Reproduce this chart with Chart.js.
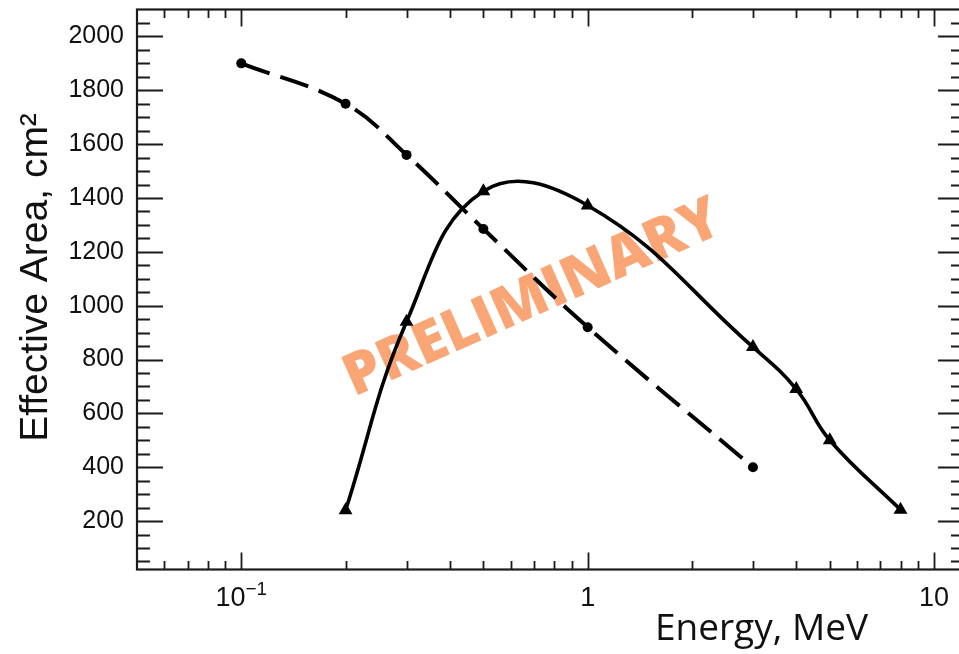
<!DOCTYPE html>
<html><head><meta charset="utf-8">
<script src="https://cdn.jsdelivr.net/npm/chart.js@4/dist/chart.umd.min.js"></script>
<style>html,body{margin:0;padding:0;background:#fff;overflow:hidden;width:959px;height:654px}canvas{display:block}</style>
</head><body>
<canvas id="c" width="1000" height="654" style="width:1000px;height:654px"></canvas>
<script>
// Data
const energyDashed = [0.1, 0.2, 0.3, 0.5, 1, 3];
const areaDashed   = [1900, 1750, 1560, 1285, 920, 400];
const energySolid  = [0.2, 0.3, 0.5, 1, 3, 4, 5, 8];
const areaSolid    = [240, 940, 1425, 1372, 846, 690, 500, 242];
const xTickValues  = [0.1, 1, 10];
const xTickBase    = ['10', '1', '10'];
const xTickExp     = ['\u22121', '', ''];
const yTickValues  = [200, 400, 600, 800, 1000, 1200, 1400, 1600, 1800, 2000];
const yTickLabels  = ['200', '400', '600', '800', '1000', '1200', '1400', '1600', '1800', '2000'];
const xTitle = 'Energy, MeV';
const yTitle = 'Effective Area, cm\u00B2';
const watermark = 'PRELIMINARY';

const decoPlugin = {
  id: 'deco',
  beforeDatasetsDraw(chart) {
    const ctx = chart.ctx;
    ctx.save();
    ctx.translate(531, 295);
    ctx.rotate(-24 * Math.PI / 180);
    ctx.font = '800 58px "Open Sans"';
    ctx.fillStyle = 'rgb(249,165,118)';
    ctx.textAlign = 'center';
    ctx.textBaseline = 'alphabetic';
    ctx.fillText(watermark, 0, 21);
    ctx.restore();
  },
  afterDraw(chart) {
    const ctx = chart.ctx, a = chart.chartArea, xs = chart.scales.x, ys = chart.scales.y;
    ctx.save();
    ctx.strokeStyle = '#1a1a1a';
    ctx.lineWidth = 1.8;
    ctx.beginPath();
    for (let d = -2; d <= 1; d++) {
      for (let m = 1; m <= 9; m++) {
        const v = m * Math.pow(10, d);
        if (v <= xs.min || v >= xs.max) continue;
        const len = m === 1 ? 17 : 8.5;
        const px = Math.round(xs.getPixelForValue(v)) + 0.5;
        ctx.moveTo(px, a.bottom); ctx.lineTo(px, a.bottom - len);
        ctx.moveTo(px, a.top); ctx.lineTo(px, a.top + len);
      }
    }
    for (let v = 50; v < ys.max; v += 50) {
      if (v <= ys.min) continue;
      const len = v % 200 === 0 ? 26 : 13;
      const py = Math.round(ys.getPixelForValue(v)) + 0.5;
      ctx.moveTo(a.left, py); ctx.lineTo(a.left + len, py);
      ctx.moveTo(a.right, py); ctx.lineTo(a.right - len, py);
    }
    ctx.stroke();
    ctx.lineWidth = 2.2;
    ctx.strokeRect(a.left, a.top, a.right - a.left, a.bottom - a.top);

    // x tick labels (base with superscript exponent), placed by the scale
    ctx.fillStyle = '#111';
    ctx.textBaseline = 'alphabetic';
    xTickValues.forEach((v, i) => {
      const px = xs.getPixelForValue(v);
      ctx.font = '27px "Liberation Sans"';
      const wb = ctx.measureText(xTickBase[i]).width;
      ctx.font = '19px "Liberation Sans"';
      const we = xTickExp[i] ? ctx.measureText(xTickExp[i]).width : 0;
      const x0 = px - (wb + we) / 2;
      ctx.font = '27px "Liberation Sans"';
      ctx.textAlign = 'left';
      ctx.fillText(xTickBase[i], x0, a.bottom + 36);
      if (xTickExp[i]) {
        ctx.font = '19px "Liberation Sans"';
        ctx.fillText(xTickExp[i], x0 + wb, a.bottom + 25);
      }
    });

    // axis titles
    ctx.font = '37px "Open Sans"';
    ctx.textAlign = 'right';
    ctx.fillText(xTitle, 868, 640);
    ctx.save();
    ctx.translate(47, 277.5);
    ctx.rotate(-Math.PI / 2);
    ctx.font = '39px "Liberation Sans"';
    ctx.textAlign = 'center';
    ctx.fillText(yTitle, 0, 0);
    ctx.restore();
    ctx.restore();
  }
};

new Chart(document.getElementById('c'), {
  type: 'line',
  data: {
    datasets: [
      {
        data: energyDashed.map((x, i) => ({ x, y: areaDashed[i] })),
        borderColor: '#000', borderWidth: 4, borderDash: [30, 11],
        tension: 0.4, fill: false,
        pointStyle: 'circle', pointRadius: 5, pointBackgroundColor: '#000', pointBorderWidth: 0
      },
      {
        data: energySolid.map((x, i) => ({ x, y: areaSolid[i] })),
        borderColor: '#000', borderWidth: 3.6,
        tension: 0.42, fill: false,
        pointStyle: 'triangle', pointRadius: 8, pointBackgroundColor: '#000', pointBorderWidth: 0
      }
    ]
  },
  options: {
    responsive: false, animation: false, devicePixelRatio: 1,
    layout: { autoPadding: false, padding: { top: 9.5, right: 36, left: 0, bottom: 0 } },
    plugins: { legend: { display: false }, tooltip: { enabled: false } },
    scales: {
      x: {
        type: 'logarithmic', min: 0.05, max: 12.2,
        afterBuildTicks: s => { s.ticks = xTickValues.map(v => ({ value: v })); },
        afterFit: s => { s.height = 84.5; s.paddingLeft = 0; s.paddingRight = 0; },
        ticks: { display: false },
        grid: { display: false, drawTicks: false },
        border: { display: false }
      },
      y: {
        type: 'linear', min: 20, max: 2100,
        afterBuildTicks: s => { s.ticks = yTickValues.map(v => ({ value: v })); },
        afterFit: s => { s.width = 137; s.paddingTop = 0; s.paddingBottom = 0; },
        ticks: {
          callback: v => { const i = yTickValues.indexOf(v); return i >= 0 ? yTickLabels[i] : ''; },
          font: { family: '"Liberation Sans"', size: 25 }, color: '#111', padding: 13, autoSkip: false
        },
        grid: { display: false, drawTicks: false },
        border: { display: false }
      }
    }
  },
  plugins: [decoPlugin]
});
</script>
</body></html>
